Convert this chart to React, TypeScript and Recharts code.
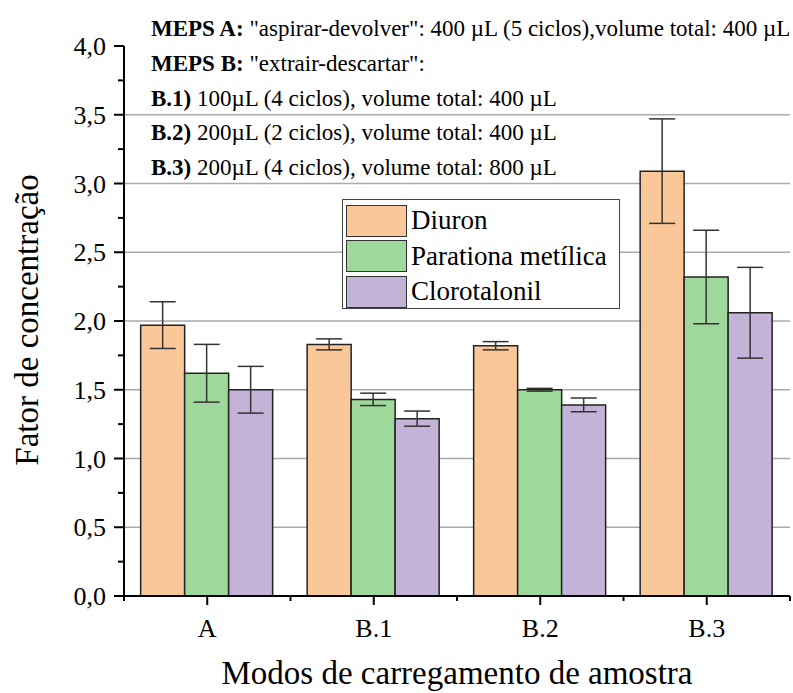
import React from "react";
import { BarChart, Bar, XAxis, YAxis, CartesianGrid, ErrorBar } from "recharts";

const categories = ["A", "B.1", "B.2", "B.3"];
const diuron = [1.97, 1.83, 1.82, 3.09];
const diuronErr = [0.17, 0.04, 0.03, 0.38];
const paration = [1.62, 1.43, 1.5, 2.32];
const parationErr = [0.21, 0.045, 0.01, 0.34];
const cloro = [1.5, 1.29, 1.39, 2.06];
const cloroErr = [0.17, 0.055, 0.05, 0.33];

const yTicks = [0, 0.25, 0.5, 0.75, 1, 1.25, 1.5, 1.75, 2, 2.25, 2.5, 2.75, 3, 3.25, 3.5, 3.75, 4];
const gridValues = [0.5, 1, 1.5, 2, 2.5, 3, 3.5];

const notes: [string, string][] = [
  ["MEPS A:", " \"aspirar-devolver\": 400 µL (5 ciclos),volume total: 400 µL"],
  ["MEPS B:", " \"extrair-descartar\":"],
  ["B.1)", " 100µL (4 ciclos), volume total: 400 µL"],
  ["B.2)", " 200µL (2 ciclos), volume total: 400 µL"],
  ["B.3)", " 200µL (4 ciclos), volume total: 800 µL"],
];

const series = [
  { key: "diuron", err: "diuronErr", name: "Diuron", color: "#FAC898" },
  { key: "paration", err: "parationErr", name: "Parationa metílica", color: "#9FD89B" },
  { key: "cloro", err: "cloroErr", name: "Clorotalonil", color: "#C3B3D7" },
];

const data = categories.map((name, i) => ({
  name,
  diuron: diuron[i],
  diuronErr: diuronErr[i],
  paration: paration[i],
  parationErr: parationErr[i],
  cloro: cloro[i],
  cloroErr: cloroErr[i],
}));

const FONT = "'Liberation Serif', 'Times New Roman', serif";

function YTick(props: any) {
  const { x, y, payload } = props;
  const axisX = x + 18;
  const v = payload.value;
  const major = Math.abs(v * 2 - Math.round(v * 2)) < 1e-6;
  return (
    <g>
      <line x1={axisX} x2={axisX - (major ? 10 : 6)} y1={y} y2={y} stroke="#000" strokeWidth={2} />
      {major && (
        <text x={x} y={y} dy={9} textAnchor="end" fontSize={26} fontFamily={FONT} fill="#000">
          {v.toFixed(1).replace(".", ",")}
        </text>
      )}
    </g>
  );
}

function XTick(props: any) {
  const { x, y, payload, index } = props;
  const axisY = y - 20;
  const half = payload.offset || 83.25;
  return (
    <g>
      <line x1={x} x2={x} y1={axisY} y2={axisY + 9} stroke="#000" strokeWidth={2} />
      <line x1={x - half} x2={x - half} y1={axisY} y2={axisY + 5} stroke="#000" strokeWidth={2} />
      {index === categories.length - 1 && (
        <line x1={x + half} x2={x + half} y1={axisY} y2={axisY + 5} stroke="#000" strokeWidth={2} />
      )}
      <text x={x} y={y} dy={21} textAnchor="middle" fontSize={26} fontFamily={FONT} fill="#000">
        {payload.value}
      </text>
    </g>
  );
}

function LegendBox() {
  return (
    <div
      style={{
        position: "absolute",
        left: 342,
        top: 199,
        width: 278,
        height: 110,
        border: "1.5px solid #444",
        background: "#fff",
        padding: "3px 0 0 3px",
        fontFamily: FONT,
        fontSize: 27,
        boxSizing: "border-box",
      }}
    >
      {series.map((s) => (
        <div key={s.key} style={{ display: "flex", alignItems: "center", height: 35.5 }}>
          <div
            style={{
              width: 61,
              height: 32,
              background: s.color,
              border: "1.5px solid #333",
              boxSizing: "border-box",
              marginRight: 4,
            }}
          />
          <span style={{ lineHeight: "27px" }}>{s.name}</span>
        </div>
      ))}
    </div>
  );
}

export default function App() {
  return (
    <div style={{ position: "absolute", left: 0, top: 0, width: 793, height: 693, background: "#fff" }}>
      <BarChart
        width={793}
        height={693}
        data={data}
        margin={{ top: 46, right: 3, left: 0, bottom: 0 }}
        barCategoryGap="10%"
        barGap={0}
      >
        <CartesianGrid
          vertical={false}
          horizontalValues={gridValues}
          stroke="#aaa"
          strokeWidth={1.5}
        />
        <XAxis
          dataKey="name"
          height={97}
          tickSize={8}
          tickMargin={12}
          tickLine={false}
          interval={0}
          tick={<XTick />}
          axisLine={{ stroke: "#000", strokeWidth: 2 }}
        />
        <YAxis
          domain={[0, 4]}
          ticks={yTicks}
          interval={0}
          width={124}
          tickSize={10}
          tickMargin={8}
          tickLine={false}
          tick={<YTick />}
          axisLine={{ stroke: "#000", strokeWidth: 2 }}
        />
        {series.map((s) => (
          <Bar
            key={s.key}
            dataKey={s.key}
            name={s.name}
            fill={s.color}
            stroke="#222"
            strokeWidth={1.5}
            isAnimationActive={false}
          >
            <ErrorBar dataKey={s.err} width={13} stroke="#333" strokeWidth={1.5} direction="y" />
          </Bar>
        ))}
      </BarChart>
      <svg
        width={793}
        height={693}
        style={{ position: "absolute", left: 0, top: 0, pointerEvents: "none" }}
      >
        {notes.map(([b, rest], i) => (
          <text key={i} x={151} y={36 + i * 34.8} fontSize={23} fontFamily={FONT} fill="#000">
            <tspan fontWeight="bold">{b}</tspan>
            <tspan>{rest}</tspan>
          </text>
        ))}
        <text
          x={0}
          y={0}
          transform="translate(38 320) rotate(-90)"
          textAnchor="middle"
          fontSize={33}
          fontFamily={FONT}
          fill="#000"
        >
          Fator de concentração
        </text>
        <text x={457} y={684} textAnchor="middle" fontSize={33} fontFamily={FONT} fill="#000">
          Modos de carregamento de amostra
        </text>
      </svg>
      <LegendBox />
    </div>
  );
}
